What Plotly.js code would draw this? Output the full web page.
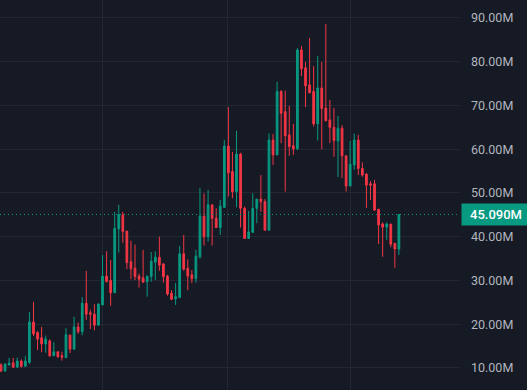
<!DOCTYPE html>
<html>
<head>
<meta charset="utf-8">
<script src="https://cdn.plot.ly/plotly-3.0.1.min.js"></script>
<style>
  html, body { margin: 0; padding: 0; background: #161a25; }
  #chart { width: 527px; height: 390px; }
</style>
</head>
<body>
<div id="chart"></div>
<script>
// OHLC values in millions, one entry per candle
const openVals = [10.7, 9.3, 10.7, 11.2, 10.2, 11.6, 10.4, 11.3, 20.5, 18.1,
  16.9, 15.5, 16.2, 12.8, 13.7, 12.8, 12.4, 17.5, 14.3, 19.4,
  18.3, 24.8, 22.6, 22.3, 19.8, 24.4, 31.0, 30.0, 27.2, 41.8,
  45.0, 41.3, 34.3, 32.8, 31.0, 30.6, 29.7, 30.9, 34.2, 35.3,
  33.8, 31.0, 27.1, 25.8, 26.1, 36.1, 32.8, 31.3, 30.4, 35.4,
  44.7, 40.0, 47.3, 44.2, 42.1, 46.7, 60.7, 54.9, 50.3, 58.9,
  46.5, 39.6, 41.0, 46.5, 48.6, 48.0, 41.5, 62.1, 58.7, 73.2,
  68.6, 63.3, 60.8, 60.1, 82.7, 78.6, 74.7, 73.2, 65.8, 74.0,
  69.4, 66.7, 65.0, 61.9, 64.8, 58.5, 51.6, 56.4, 62.1, 55.6,
  54.3, 52.1, 52.1, 46.3, 42.9, 42.2, 42.9, 38.5, 37.2];
const highVals = [11.1, 11.0, 12.3, 12.3, 12.4, 12.0, 12.7, 22.8, 25.1, 18.4,
  19.4, 17.4, 16.5, 15.9, 13.8, 13.7, 19.1, 17.7, 21.7, 20.4,
  26.2, 32.2, 23.3, 24.6, 24.8, 35.8, 36.7, 34.7, 45.7, 47.3,
  45.7, 41.3, 39.1, 38.2, 31.6, 37.0, 31.0, 36.5, 36.7, 40.0,
  33.8, 31.3, 27.8, 29.4, 37.9, 40.4, 34.8, 32.4, 37.0, 51.1,
  49.9, 50.7, 47.3, 46.5, 48.4, 62.1, 69.6, 59.4, 64.2, 59.2,
  46.9, 45.9, 49.9, 48.6, 54.1, 48.6, 63.6, 63.5, 75.4, 73.5,
  73.4, 69.9, 65.8, 83.1, 83.6, 79.9, 85.4, 79.0, 81.3, 79.9,
  88.6, 71.3, 69.4, 67.6, 65.5, 58.5, 61.9, 63.6, 63.3, 57.0,
  54.5, 52.7, 53.0, 46.3, 43.3, 43.3, 42.9, 38.5, 45.09];
const lowVals = [9.1, 9.2, 10.5, 10.0, 10.0, 10.1, 10.4, 10.9, 17.3, 14.1,
  13.6, 13.5, 12.5, 12.7, 12.3, 11.7, 12.2, 13.4, 14.2, 17.8,
  17.5, 21.0, 18.9, 18.6, 19.6, 24.4, 29.7, 24.2, 27.2, 36.4,
  38.6, 32.6, 30.3, 30.1, 28.4, 29.6, 26.3, 29.7, 30.1, 32.2,
  29.5, 26.5, 25.5, 24.4, 26.1, 32.2, 27.8, 29.4, 29.5, 35.0,
  38.0, 38.9, 38.0, 42.1, 40.4, 46.7, 49.2, 48.8, 46.7, 42.1,
  39.6, 39.6, 41.0, 43.1, 45.7, 41.5, 41.5, 56.4, 58.7, 61.4,
  50.3, 58.5, 58.7, 59.8, 76.7, 69.6, 72.9, 65.2, 62.0, 60.0,
  66.5, 61.4, 58.3, 53.7, 53.4, 50.3, 51.6, 55.3, 54.1, 53.7,
  46.6, 48.4, 45.9, 38.3, 35.4, 39.3, 37.6, 32.9, 35.8];
const closeVals = [9.3, 10.9, 11.1, 10.2, 11.6, 10.4, 11.6, 20.5, 17.8, 16.6,
  15.5, 16.6, 12.8, 13.7, 12.6, 12.5, 17.6, 14.3, 19.4, 18.3,
  24.8, 22.3, 22.3, 19.8, 24.6, 31.0, 29.7, 27.2, 41.9, 45.1,
  41.2, 34.1, 32.7, 30.9, 30.3, 29.6, 31.0, 34.4, 35.3, 33.5,
  30.9, 26.9, 25.7, 26.3, 36.1, 32.6, 31.0, 30.4, 35.6, 44.7,
  40.0, 47.3, 44.2, 42.1, 47.0, 60.7, 54.6, 50.3, 58.9, 46.5,
  39.6, 41.1, 46.5, 48.6, 48.0, 41.5, 62.1, 58.7, 73.2, 68.2,
  63.1, 60.6, 60.1, 82.7, 78.4, 74.5, 72.9, 65.8, 74.0, 69.3,
  66.5, 65.0, 62.0, 64.8, 58.5, 51.6, 56.6, 62.1, 55.6, 54.1,
  51.8, 51.8, 46.1, 42.7, 42.2, 42.9, 38.3, 37.2, 45.09];

// Price axis ticks
const tickValues = [10, 20, 30, 40, 50, 60, 70, 80, 90];
const tickLabels = ["10.00M", "20.00M", "30.00M", "40.00M", "50.00M", "60.00M", "70.00M", "80.00M", "90.00M"];
// Vertical grid positions (candle index of period boundaries)
const periodGrid = [24.9, 55.9, 86.2];

const bars = openVals.map((_, i) => i);
const UP = "#089981", DOWN = "#f23645", BG = "#161a25", GRID = "#232733";
const lastClose = closeVals[closeVals.length - 1];

const trace = {
  type: "candlestick",
  x: bars, open: openVals, high: highVals, low: lowVals, close: closeVals,
  increasing: { line: { color: UP, width: 1 }, fillcolor: UP },
  decreasing: { line: { color: DOWN, width: 1 }, fillcolor: DOWN },
  whiskerwidth: 0,
  hoverinfo: "skip"
};

const layout = {
  width: 527, height: 390,
  paper_bgcolor: BG, plot_bgcolor: BG,
  margin: { l: 0, r: 67, t: 0, b: 0, pad: 0 },
  showlegend: false,
  boxgap: 0.4,
  xaxis: {
    range: [-0.25, 113.05], rangeslider: { visible: false },
    tickmode: "array", tickvals: periodGrid, showticklabels: false,
    showgrid: true, gridcolor: GRID, gridwidth: 1, zeroline: false,
    showline: false, ticks: ""
  },
  yaxis: {
    side: "right", range: [4.97, 94.11],
    tickmode: "array", tickvals: tickValues, ticktext: tickLabels,
    showgrid: true, gridcolor: GRID, gridwidth: 1, zeroline: false,
    showline: false, ticks: "", ticklabelstandoff: 10,
    tickfont: { family: "Roboto, 'Liberation Sans', sans-serif", size: 12.5, color: "#b2b5be" }
  },
  shapes: [{
    type: "line", xref: "paper", x0: 0, x1: 1, yref: "y", y0: lastClose, y1: lastClose,
    line: { color: UP, width: 1, dash: "1px,3px" }
  }],
  annotations: [{
    xref: "paper", x: 1, xanchor: "left", xshift: 1,
    yref: "y", y: lastClose, yanchor: "middle",
    text: lastClose.toFixed(3) + "M", showarrow: false,
    bgcolor: UP, width: 64, height: 17, align: "center", borderpad: 2,
    font: { family: "Roboto, 'Liberation Sans', sans-serif", size: 13, color: "#ffffff", weight: 500 }
  }]
};

Plotly.newPlot("chart", [trace], layout, { displayModeBar: false, staticPlot: true });
</script>
</body>
</html>
